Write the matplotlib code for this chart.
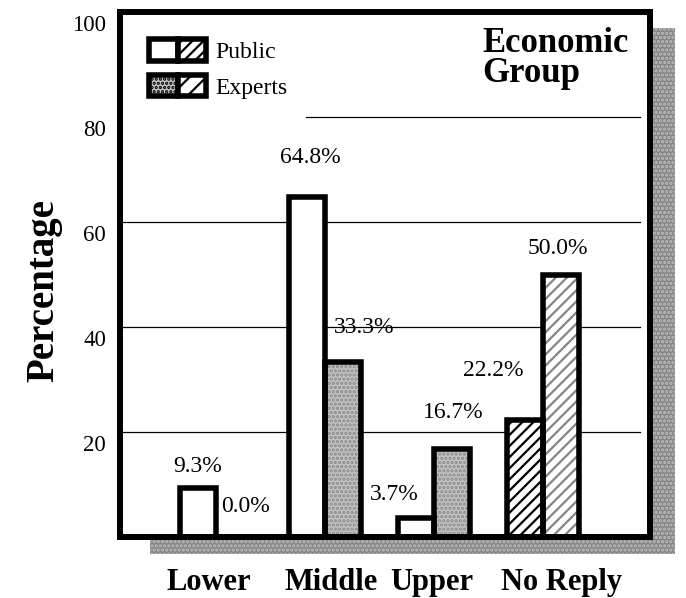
import matplotlib
matplotlib.use("Agg")
from matplotlib import pyplot as plt
from matplotlib.patches import Patch, Rectangle
from matplotlib.legend_handler import HandlerTuple
from matplotlib.transforms import ScaledTranslation

plt.rcParams['font.family'] = ['Liberation Serif', 'DejaVu Serif']
plt.rcParams['hatch.linewidth'] = 1.6

groups = ["Lower", "Middle", "Upper", "No Reply"]
public = [9.3, 64.8, 3.7, 22.2]
experts = [0.0, 33.3, 16.7, 50.0]
yticks = [20, 40, 60, 80, 100]

# label offsets in pixels from the top of each bar
pub_off = [(0, 22), (3, 39), (-22, 23), (-32, 50)]
exp_off = [(12, 30), (21, 35), (1, 37), (-3, 26)]
label_x = [-0.07, 1.06, 1.98, 3.17]

w = 0.33
fig = plt.figure(figsize=(6.86, 5.98), dpi=100)

# drop shadow behind the plot frame
shadow = Rectangle((150 / 686, 44 / 598), 525 / 686, 526 / 598,
                   transform=fig.transFigure, facecolor='#858585',
                   edgecolor='#bdbdbd', hatch='....', lw=0, zorder=-5)
fig.add_artist(shadow)

ax = fig.add_axes([120 / 686, 61 / 598, 530 / 686, 525 / 598])
ax.set_facecolor('white')
ax.set_xlim(-0.88, 3.98)
ax.set_ylim(0, 100)

for y in yticks[:-1]:
    ax.axhline(y, xmin=0.35 if y == 80 else 0.0, xmax=0.981,
               color='black', lw=0.9, zorder=1)

x = list(range(len(groups)))
xp = [i - w / 2 for i in x]
xe = [i + w / 2 for i in x]

# fills
face_p = ['white', 'white', 'white', 'white']
hatch_p = [None, None, None, '///']
face_e = ['#c2c2c2', '#c2c2c2', '#c2c2c2', 'white']
hatch_e = ['....', '....', '....', '///']
hcol_e = ['#8a8a8a', '#8a8a8a', '#8a8a8a', '#858585']

for i in x:
    ax.bar(xp[i], public[i], w, color=face_p[i], hatch=hatch_p[i],
           edgecolor='black', lw=0, zorder=2)
    if experts[i] > 0:
        ax.bar(xe[i], experts[i], w, color=face_e[i], hatch=hatch_e[i],
               edgecolor=hcol_e[i], lw=0, zorder=2)
ax.bar(xp, public, w, fill=False, edgecolor='black', lw=4, zorder=3)
ax.bar([xe[i] for i in x if experts[i] > 0], [v for v in experts if v > 0], w,
       fill=False, edgecolor='black', lw=4, zorder=3)

for i in x:
    ax.annotate(f"{public[i]:.1f}%", (xp[i], public[i]), xytext=pub_off[i],
                textcoords='offset pixels', ha='center', va='center', fontsize=17)
    ax.annotate(f"{experts[i]:.1f}%", (xe[i], experts[i]), xytext=exp_off[i],
                textcoords='offset pixels', ha='center', va='center', fontsize=17)

for s in ax.spines.values():
    s.set_linewidth(4.3)
    s.set_zorder(5)

ax.set_xticks(label_x)
ax.set_xticklabels(groups, fontsize=22, fontweight='bold')
ax.tick_params(axis='x', length=0, pad=22)
ax.set_yticks(yticks)
ax.set_yticklabels([str(v) for v in yticks], fontsize=16.5)
ax.tick_params(axis='y', length=0, pad=10)
for lab in ax.get_yticklabels():
    lab.set_transform(lab.get_transform() + ScaledTranslation(0, -8 / 72, fig.dpi_scale_trans))

fig.text(44 / 686, 1 - 290 / 598, "Percentage", rotation=90, ha='center', va='center',
         fontsize=28, fontweight='bold')

ax.text(0.683, 0.924, "Economic", transform=ax.transAxes, fontsize=25,
        fontweight='bold', va='baseline', ha='left')
ax.text(0.683, 0.867, "Group", transform=ax.transAxes, fontsize=25,
        fontweight='bold', va='baseline', ha='left')

handles = [
    (Patch(facecolor='white', edgecolor='black', lw=4),
     Patch(facecolor='white', edgecolor='black', lw=4, hatch='///')),
    (Patch(facecolor='#c2c2c2', edgecolor='black', lw=4, hatch='....'),
     Patch(facecolor='white', edgecolor='black', lw=4, hatch='//')),
]
leg = ax.legend(handles, ["Public", "Experts"],
                handler_map={tuple: HandlerTuple(ndivide=None, pad=0)},
                loc='upper left', bbox_to_anchor=(0.02, 0.985), fontsize=17,
                handlelength=2.4, handleheight=1.05, labelspacing=0.5,
                handletextpad=0.4, frameon=False, borderpad=0.3)
leg.set_zorder(6)

fig.savefig("out.png", dpi=100)
